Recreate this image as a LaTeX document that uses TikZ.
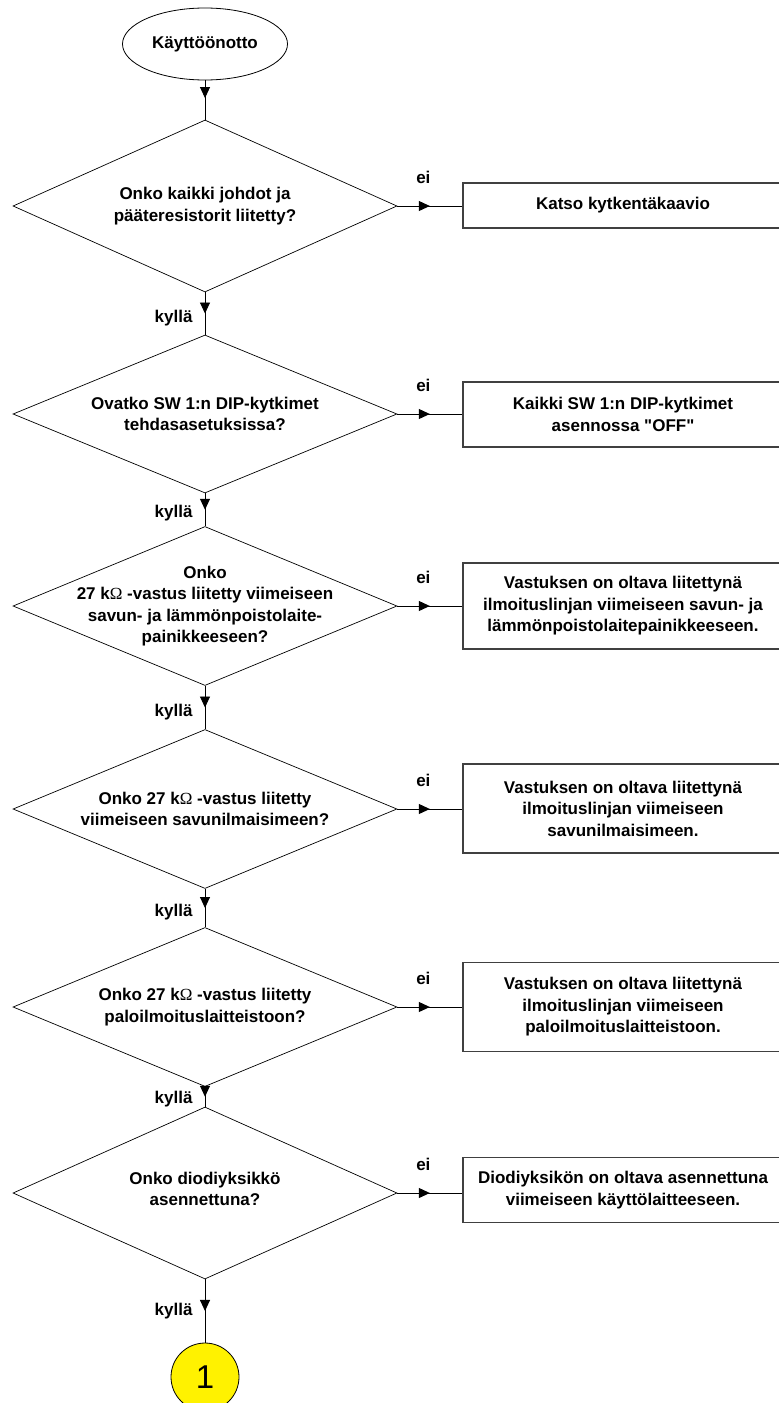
\documentclass[tikz,border=0pt]{standalone}
\usepackage{fontspec}
\setmainfont{Liberation Sans}
\newfontfamily\symfont{Liberation Serif}
\newfontfamily\rawfont{Liberation Sans}
\usetikzlibrary{shapes.geometric, arrows.meta, decorations.markings}
\newcommand{\kohm}{k{\symfont\mdseries Ω}}
\newcommand{\dq}{{\rawfont\bfseries"}}

\tikzset{
  flowtext/.style={font=\bfseries\fontsize{17}{21.5}\selectfont, align=center, inner sep=0pt},
  terminal/.style={draw, ellipse, line width=0.8pt, minimum width=165pt, minimum height=72pt, flowtext},
  query/.style={draw, diamond, line width=0.7pt, minimum width=384pt, minimum height=#1, inner sep=0pt},
  answer/.style={draw=black!75, line width=1.3pt, minimum width=320pt, minimum height=#1, flowtext},
  jump/.style={draw, circle, fill=yellow, line width=0.8pt, minimum size=68pt, inner sep=0pt, font=\fontsize{33}{33}\selectfont},
  flow/.style={line width=0.9pt, postaction={decorate}, decoration={markings, mark=at position #1 with {\arrow{Triangle[length=11pt,width=10pt]}}}},
  flow/.default=0.5,
  yes/.style={flowtext, left=12pt},
  no/.style={flowtext, above=22pt, pos=0.4}
}

\begin{document}
\begin{tikzpicture}[x=1pt, y=-1pt]
\useasboundingbox (0,0) rectangle (779,1403);

\node[terminal] (start) at (205,44) {Käyttöönotto};

\node[query=172pt] (q1) at (205,206) {};
\node[flowtext] (t1) at (q1) {Onko kaikki johdot ja\\pääteresistorit liitetty?};
\node[answer=45pt] (b1) at (623,205.5) {Katso kytkentäkaavio};

\node[query=158pt] (q2) at (205,414) {};
\node[flowtext] (t2) at (q2) {Ovatko SW 1:n DIP-kytkimet\\tehdasasetuksissa?};
\node[answer=65pt] (b2) at (623,414.5) {Kaikki SW 1:n DIP-kytkimet\\asennossa \dq OFF\dq};

\node[query=159pt] (q3) at (205,606) {};
\node[flowtext] (t3) at (q3) {Onko\\27 \kohm{} -vastus liitetty viimeiseen\\savun- ja lämmönpoistolaite-\\painikkeeseen?};
\node[answer=86pt] (b3) at (623,606) {Vastuksen on oltava liitettynä\\ilmoituslinjan viimeiseen savun- ja\\lämmönpoistolaitepainikkeeseen.};

\node[query=159pt] (q4) at (205,809) {};
\node[flowtext] (t4) at (q4) {Onko 27 \kohm{} -vastus liitetty\\viimeiseen savunilmaisimeen?};
\node[answer=89pt] (b4) at (623,808.5) {Vastuksen on oltava liitettynä\\ilmoituslinjan viimeiseen\\savunilmaisimeen.};

\node[query=159pt] (q5) at (205,1007) {};
\node[flowtext] (t5) at (q5) {Onko 27 \kohm{} -vastus liitetty\\paloilmoituslaitteistoon?};
\node[answer=89pt] (b5) at (623,1007) {Vastuksen on oltava liitettynä\\ilmoituslinjan viimeiseen\\paloilmoituslaitteistoon.};

\node[query=172pt] (q6) at (205,1193) {};
\node[flowtext] (t6) at (205,1189) {Onko diodiyksikkö\\asennettuna?};
\node[answer=65pt] (b6) at (623,1190) {Diodiyksikön on oltava asennettuna\\viimeiseen käyttölaitteeseen.};

\node[jump] (c1) at (205,1377) {1};

\draw[flow=0.45] (start) -- (q1);
\draw[flow] (q1.south) -- node[yes, pos=0.6]{kyllä} (q2.north);
\draw[flow] (q2.south) -- node[yes, pos=0.6]{kyllä} (q3.north);
\draw[flow] (q3.south) -- node[yes, pos=0.6]{kyllä} (q4.north);
\draw[flow] (q4.south) -- node[yes, pos=0.6]{kyllä} (q5.north);
\draw[flow] (q5.south) -- node[yes, pos=0.6]{kyllä} (q6.north);
\draw[flow] (q6.south) -- node[yes, pos=0.5]{kyllä} (c1);

\draw[flow] (q1.east) -- node[no]{ei} (q1.east -| b1.west);
\draw[flow] (q2.east) -- node[no]{ei} (q2.east -| b2.west);
\draw[flow] (q3.east) -- node[no]{ei} (q3.east -| b3.west);
\draw[flow] (q4.east) -- node[no]{ei} (q4.east -| b4.west);
\draw[flow] (q5.east) -- node[no]{ei} (q5.east -| b5.west);
\draw[flow] (q6.east) -- node[no]{ei} (q6.east -| b6.west);
\end{tikzpicture}
\end{document}
